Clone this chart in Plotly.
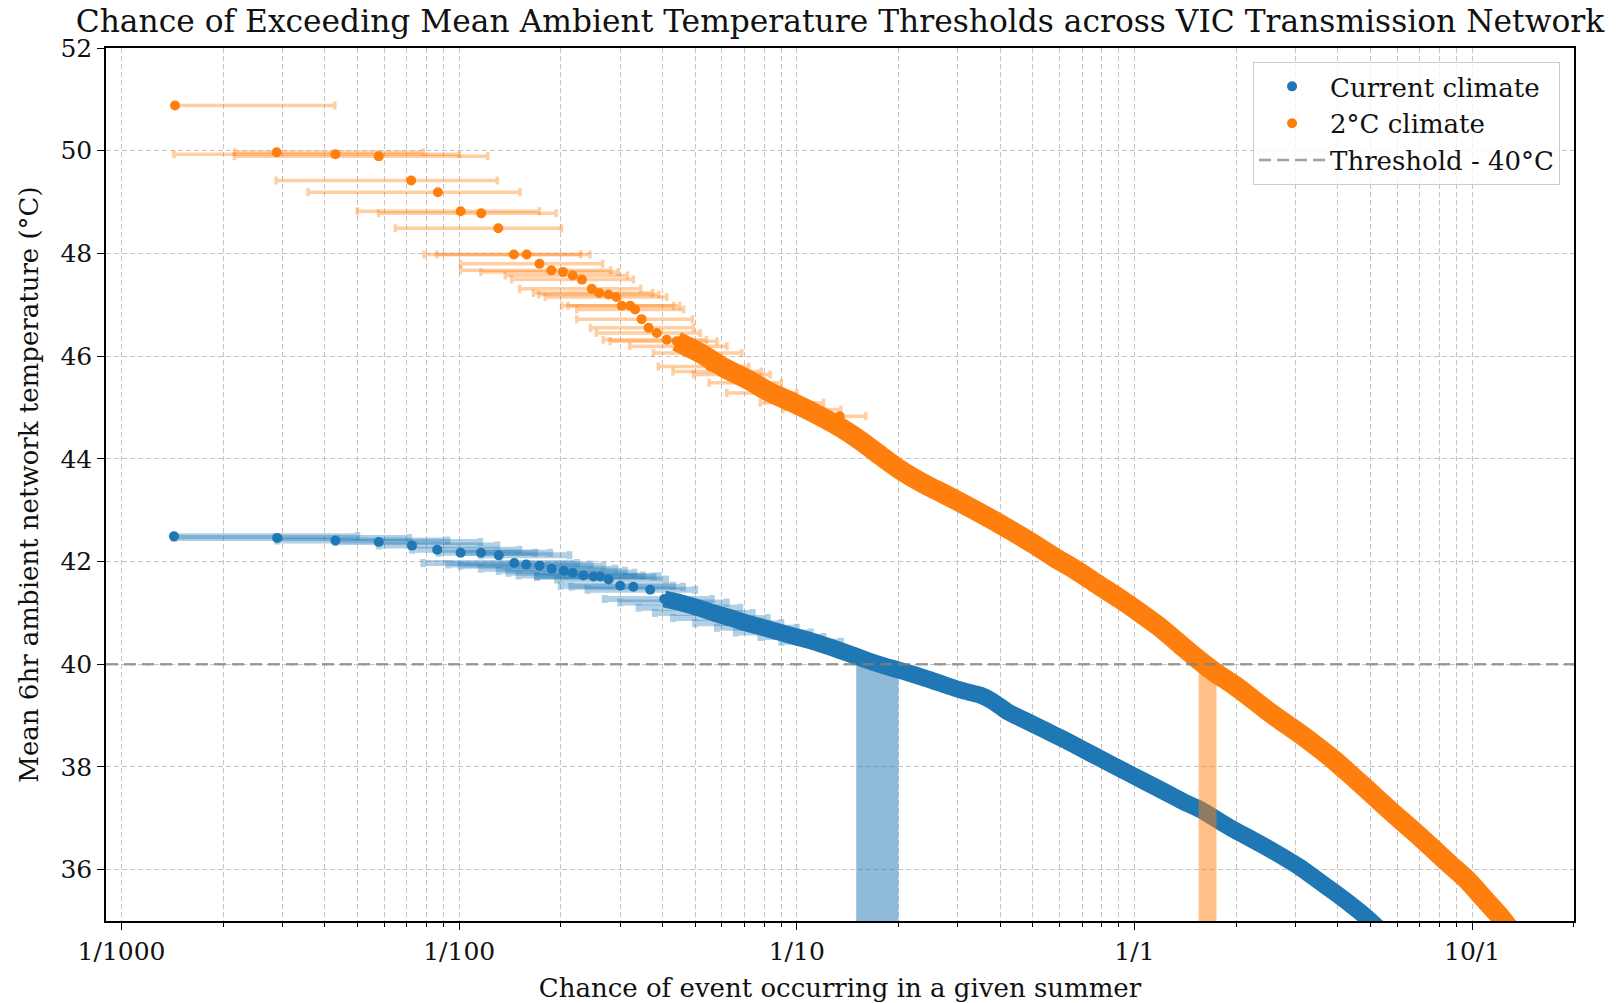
import plotly.graph_objects as go

# ---------------- data ----------------
title_text = "Chance of Exceeding Mean Ambient Temperature Thresholds across VIC Transmission Network"
x_label = "Chance of event occurring in a given summer"
y_label = "Mean 6hr ambient network temperature (°C)"

x_tick_vals = [0.001, 0.01, 0.1, 1, 10]
x_tick_text = ["1/1000", "1/100", "1/10", "1/1", "10/1"]
y_tick_vals = [36, 38, 40, 42, 44, 46, 48, 50, 52]

threshold = 40
current_band = [0.15, 0.20]
future_band = [1.55, 1.75]

# Current climate: individual events (with horizontal uncertainty bars)
cur_x = [0.00143, 0.00289, 0.0043, 0.00578, 0.00725, 0.00861, 0.0101, 0.0116, 0.0131,
         0.01456, 0.0158, 0.0173, 0.0188, 0.0204, 0.0217, 0.0233, 0.0250, 0.0262, 0.0277,
         0.0300, 0.0328, 0.0368, 0.0405, 0.0452, 0.0510, 0.0567, 0.0640, 0.0711, 0.0800,
         0.0893, 0.100, 0.112]
cur_y = [42.49, 42.46, 42.41, 42.38, 42.31, 42.23, 42.17, 42.17, 42.12,
         41.97, 41.94, 41.92, 41.86, 41.82, 41.78, 41.73, 41.71, 41.71, 41.65,
         41.53, 41.51, 41.45, 41.27, 41.20, 41.10, 41.00, 40.90, 40.80, 40.71,
         40.62, 40.53, 40.44]
cur_lo = [0.00143, 0.00143, 0.00289, 0.0043, 0.00578, 0.00725, 0.0087, 0.0101, 0.0116,
          0.00783, 0.00929, 0.0101, 0.0116, 0.0131, 0.0140, 0.0150, 0.0170, 0.0170, 0.0195,
          0.0200, 0.0215, 0.0240, 0.0270, 0.0300, 0.0340, 0.0380, 0.0430, 0.0500, 0.0580,
          0.0660, 0.0780, 0.0900]
cur_hi = [0.00499, 0.00711, 0.00923, 0.01154, 0.01297, 0.01507, 0.0168, 0.0186, 0.0212,
          0.0223, 0.0245, 0.0267, 0.0290, 0.0310, 0.0330, 0.0350, 0.0376, 0.0390, 0.0410,
          0.0430, 0.0460, 0.0500, 0.0560, 0.0620, 0.0680, 0.0740, 0.0820, 0.0900, 0.1000,
          0.1100, 0.1200, 0.1350]
# Current climate: dense bulk of events
cur_bulk_x = [0.0405, 0.0452, 0.0510, 0.0567, 0.0640, 0.0711, 0.0800, 0.0893, 0.100, 0.112,
              0.126, 0.141, 0.158, 0.175, 0.197, 0.222, 0.250, 0.279, 0.312, 0.349, 0.380,
              0.420, 0.470, 0.542, 0.620, 0.704, 0.800, 0.915, 1.07, 1.25, 1.40, 1.567,
              1.75, 1.968, 2.20, 2.47, 2.75, 3.10, 3.45, 3.89, 4.35, 4.89, 5.3]
cur_bulk_y = [41.27, 41.20, 41.10, 41.00, 40.90, 40.80, 40.71, 40.62, 40.53, 40.44,
              40.33, 40.22, 40.10, 40.00, 39.90, 39.80, 39.69, 39.58, 39.48, 39.40, 39.28,
              39.08, 38.92, 38.72, 38.53, 38.34, 38.15, 37.95, 37.72, 37.49, 37.32, 37.17,
              36.98, 36.78, 36.61, 36.43, 36.25, 36.04, 35.82, 35.57, 35.33, 35.06, 34.85]

# 2°C climate: individual events
fut_x = [0.00144, 0.00288, 0.0043, 0.00578, 0.00721, 0.00865, 0.0101, 0.01162, 0.01306,
         0.01452, 0.01585, 0.0173, 0.01876, 0.0203, 0.0217, 0.0231, 0.0247, 0.0260, 0.0277,
         0.0292, 0.0303, 0.0321, 0.0332, 0.0347, 0.0364, 0.0385, 0.0412, 0.0441, 0.0473,
         0.0517, 0.0554, 0.0607, 0.0665, 0.0727, 0.0815, 0.0955, 0.112, 0.134]
fut_y = [50.88, 49.97, 49.93, 49.89, 49.42, 49.19, 48.82, 48.78, 48.49,
         47.98, 47.98, 47.80, 47.67, 47.64, 47.57, 47.49, 47.31, 47.23, 47.20,
         47.15, 46.98, 46.98, 46.91, 46.72, 46.55, 46.45, 46.32, 46.29, 46.19,
         46.06, 45.80, 45.70, 45.64, 45.48, 45.28, 45.09, 44.96, 44.83]
fut_lo = [0.00144, 0.00216, 0.00143, 0.00216, 0.00287, 0.00357, 0.00499, 0.00577, 0.00647,
          0.00787, 0.00859, 0.0101, 0.0101, 0.0116, 0.0137, 0.0143, 0.0151, 0.0166, 0.0172,
          0.0180, 0.0201, 0.0210, 0.0223, 0.0223, 0.0245, 0.0255, 0.0267, 0.0280, 0.0320,
          0.0376, 0.0389, 0.0430, 0.0494, 0.0550, 0.0620, 0.0780, 0.0910, 0.1100]
fut_hi = [0.00428, 0.00783, 0.0100, 0.01216, 0.01297, 0.01514, 0.01726, 0.01937, 0.0201,
          0.0229, 0.0244, 0.0266, 0.0281, 0.0296, 0.0315, 0.0328, 0.0345, 0.0374, 0.0390,
          0.0412, 0.0432, 0.0450, 0.0462, 0.0491, 0.0494, 0.0517, 0.0540, 0.0580, 0.0621,
          0.0687, 0.0720, 0.0784, 0.0834, 0.0900, 0.1000, 0.1200, 0.1350, 0.1600]
# 2°C climate: dense bulk
fut_bulk_x = [0.0441, 0.0517, 0.0607, 0.0727, 0.0815, 0.0955, 0.112, 0.134, 0.154, 0.178,
              0.203, 0.240, 0.272, 0.320, 0.383, 0.440, 0.503, 0.580, 0.676, 0.780, 0.908,
              1.03, 1.19, 1.37, 1.567, 1.75, 1.968, 2.20, 2.472, 2.75, 3.104, 3.50, 3.89,
              4.35, 4.89, 5.50, 6.14, 6.90, 7.71, 8.60, 9.67, 10.8, 12.1, 12.9]
fut_bulk_y = [46.29, 46.06, 45.78, 45.52, 45.33, 45.12, 44.90, 44.62, 44.36, 44.05,
              43.78, 43.50, 43.32, 43.08, 42.80, 42.57, 42.34, 42.08, 41.82, 41.55, 41.27,
              41.02, 40.72, 40.38, 40.06, 39.82, 39.60, 39.36, 39.10, 38.88, 38.64, 38.38, 38.14,
              37.86, 37.56, 37.25, 36.97, 36.68, 36.39, 36.10, 35.80, 35.45, 35.09, 34.85]

# ---------------- style ----------------
BLUE = "#1f77b4"
ORANGE = "#ff7f0e"
FONT = "DejaVu Serif"
TXT = "#111111"
y_range = [35, 52]

minor_vals = [m * 10.0 ** e for e in range(-3, 2) for m in range(2, 10)]

fig = go.Figure()

# Current climate
fig.add_trace(go.Scatter(x=cur_bulk_x, y=cur_bulk_y, mode="lines",
                         line=dict(color=BLUE, width=17, shape="spline", smoothing=0.6),
                         showlegend=False, hoverinfo="skip"))
fig.add_trace(go.Scatter(
    x=cur_x, y=cur_y, mode="markers", name="Current climate",
    marker=dict(color=BLUE, size=10),
    error_x=dict(type="data", symmetric=False,
                 array=[h - x for h, x in zip(cur_hi, cur_x)],
                 arrayminus=[x - l for l, x in zip(cur_lo, cur_x)],
                 color="rgba(31,119,180,0.35)", thickness=6, width=4)))

# bands
fig.add_trace(go.Scatter(
    x=[current_band[0], current_band[1], current_band[1], current_band[0], current_band[0]],
    y=[y_range[0], y_range[0], threshold, threshold, y_range[0]],
    mode="lines", fill="toself", fillcolor="rgba(31,119,180,0.5)",
    line=dict(width=0), showlegend=False, hoverinfo="skip"))
fig.add_trace(go.Scatter(
    x=[future_band[0], future_band[1], future_band[1], future_band[0], future_band[0]],
    y=[y_range[0], y_range[0], threshold, threshold, y_range[0]],
    mode="lines", fill="toself", fillcolor="rgba(255,127,14,0.5)",
    line=dict(width=0), showlegend=False, hoverinfo="skip"))

# 2°C climate
fig.add_trace(go.Scatter(x=fut_bulk_x, y=fut_bulk_y, mode="lines",
                         line=dict(color=ORANGE, width=20, shape="spline", smoothing=0.6),
                         showlegend=False, hoverinfo="skip"))
fig.add_trace(go.Scatter(
    x=fut_x, y=fut_y, mode="markers", name="2°C climate",
    marker=dict(color=ORANGE, size=10),
    error_x=dict(type="data", symmetric=False,
                 array=[h - x for h, x in zip(fut_hi, fut_x)],
                 arrayminus=[x - l for l, x in zip(fut_lo, fut_x)],
                 color="rgba(255,127,14,0.38)", thickness=3.5, width=4)))

# threshold line
fig.add_shape(type="line", xref="x domain", x0=0, x1=1, yref="y", y0=threshold, y1=threshold,
              line=dict(color="rgba(128,128,128,0.75)", width=2.5, dash="12px,6px"),
              showlegend=True, name="Threshold - 40°C", layer="above")

grid_kw = dict(showgrid=True, gridcolor="#c4c4c4", griddash="5px,3px", gridwidth=1)

fig.update_layout(
    width=1616, height=1003,
    margin=dict(l=106, r=42, t=48, b=82, autoexpand=False),
    paper_bgcolor="white", plot_bgcolor="white",
    font=dict(family=FONT, size=26, color=TXT),
    title=dict(text=title_text, x=0.5, xref="paper", xanchor="center",
               y=1 - 21 / 1003, yref="container", yanchor="middle",
               font=dict(family=FONT, size=31.3, color=TXT)),
    legend=dict(x=0.9905, y=0.984, xanchor="right", yanchor="top",
                bgcolor="rgba(255,255,255,0.8)", bordercolor="#cccccc", borderwidth=1,
                itemwidth=66,
                font=dict(family=FONT, size=26, color=TXT)),
    showlegend=True,
)
fig.update_xaxes(
    type="log", range=[-3.046, 1.302], automargin=False,
    tickmode="array", tickvals=x_tick_vals, ticktext=x_tick_text,
    ticks="outside", ticklen=7, tickwidth=1.3, tickcolor="black",
    showline=True, linecolor="black", linewidth=1.5, mirror=True,
    title=dict(text=x_label, standoff=17, font=dict(family=FONT, size=26, color=TXT)),
    tickfont=dict(family=FONT, size=25, color=TXT),
    minor=dict(tickmode="array", tickvals=minor_vals, ticks="outside", ticklen=4,
               tickwidth=1, tickcolor="black", showgrid=True, gridcolor="#c4c4c4",
               griddash="5px,3px", gridwidth=1),
    zeroline=False, **grid_kw)
fig.update_yaxes(
    range=y_range, tickmode="array", tickvals=y_tick_vals, automargin=False,
    ticks="outside", ticklen=7, tickwidth=1.3, tickcolor="black",
    showline=True, linecolor="black", linewidth=1.5, mirror=True,
    title=dict(text=y_label, standoff=14, font=dict(family=FONT, size=26, color=TXT)),
    tickfont=dict(family=FONT, size=25, color=TXT),
    zeroline=False, **grid_kw)

fig.write_html("out.html")
